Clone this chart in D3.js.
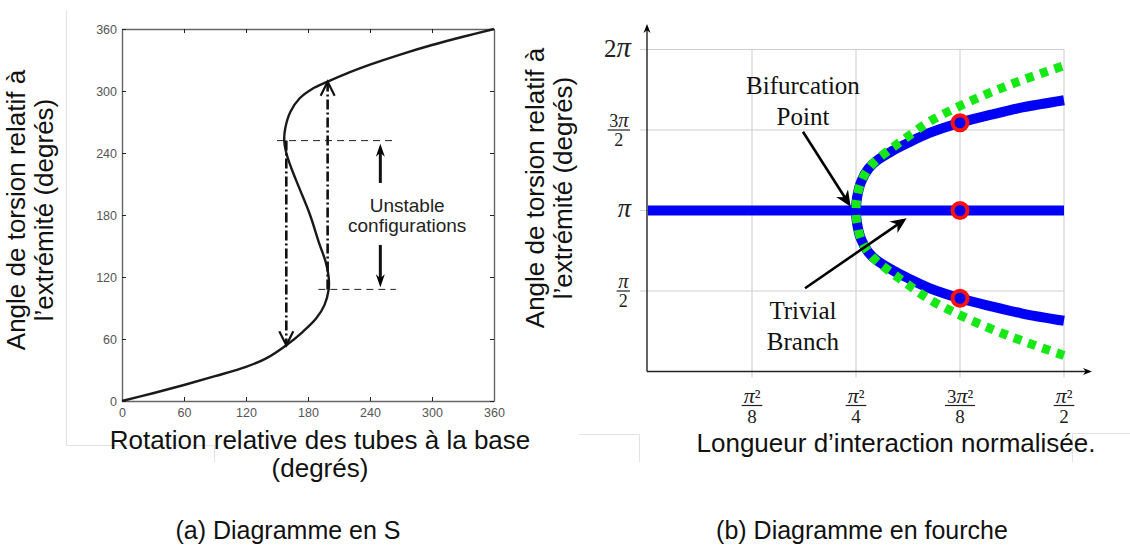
<!DOCTYPE html>
<html>
<head>
<meta charset="utf-8">
<script src="https://cdn.jsdelivr.net/npm/d3@7"></script>
<style>
  body { margin: 0; background: #fff; }
  svg { display: block; }
</style>
</head>
<body>
<div id="fig"></div>
<script>
// ---- data (a) S diagram : rotation at base (deg) vs tip twist (deg)
var sRotation = [0, 30, 60, 90, 120, 140, 159, 175, 188, 196, 200, 200, 197, 191, 182, 172, 164, 159, 157, 158, 163, 172, 184, 199, 220, 240, 270, 300, 330, 360];
var sTwist    = [0, 7.5, 15.5, 24, 33, 41.5, 54, 67, 80, 93, 108, 120, 135, 152, 180, 205, 225, 240, 252, 264, 280, 293, 302, 309, 318, 325.5, 335.5, 344.5, 352.5, 360];
var sTicks = [0, 60, 120, 180, 240, 300, 360];
var unstableBand = [108, 252];          // twist limits of unstable part
var jumpDown = [159, 252, 54];          // rotation, from twist, to twist
var jumpUp = [199, 108, 309];

// ---- data (b) pitchfork : length in pi^2/8 units, angle in pi units
var lenTicks = [1, 2, 3, 4];
var lenTickLabels = ["π²/8", "π²/4", "3π²/8", "π²/2"];
var angleTicks = [0.5, 1, 1.5, 2];
var angleTickLabels = ["π/2", "π", "3π/2", "2π"];
var trivialLen = [0, 4];
var trivialAngle = [1, 1];
var forkLen        = [2, 2.01, 2.05, 2.12, 2.2, 2.35, 2.5, 2.7, 3, 3.3, 3.6, 4];
var blueUpper      = [1.0, 1.08, 1.18, 1.26, 1.31, 1.37, 1.42, 1.48, 1.545, 1.595, 1.64, 1.685];
var blueLower      = [1.0, 0.92, 0.82, 0.74, 0.69, 0.63, 0.58, 0.52, 0.455, 0.405, 0.36, 0.315];
var greenUpper     = [1.0, 1.08, 1.18, 1.26, 1.315, 1.39, 1.46, 1.55, 1.65, 1.735, 1.81, 1.9];
var greenLower     = [1.0, 0.92, 0.82, 0.74, 0.685, 0.61, 0.54, 0.45, 0.35, 0.265, 0.19, 0.1];
var markLen = [3, 3, 3];
var markAngle = [1.545, 1, 0.455];

var svg = d3.select("#fig")
  .append("svg")
    .attr("width", 1130)
    .attr("height", 550)
    .style("font-family", "'Liberation Sans', Arial, Helvetica, sans-serif");

svg.append("rect").attr("width", 1130).attr("height", 550).attr("fill", "#fff");

// faint panel frame leftovers
var frame = svg.append("g").attr("stroke", "#e2e2e2").attr("fill", "none").attr("stroke-width", 1);
frame.append("path").attr("d", "M66.5,10V445.5H214.5V462");
frame.append("path").attr("d", "M579,434.5H639.5V462");
frame.append("path").attr("d", "M1130,433.5H1072.5V462");

// arrow head helper
function head(g, x1, y1, x2, y2, len, half, filled) {
  var a = Math.atan2(y2 - y1, x2 - x1);
  var c = Math.cos(a), s = Math.sin(a);
  var bx = x2 - len * c, by = y2 - len * s;
  var l = [bx - half * s, by + half * c], r = [bx + half * s, by - half * c];
  if (filled) {
    var nx = x2 - len * 0.7 * c, ny = y2 - len * 0.7 * s;
    g.append("path")
      .attr("d", "M" + x2 + "," + y2 + "L" + l + "L" + nx + "," + ny + "L" + r + "Z")
      .attr("fill", "#000").attr("stroke", "none");
  } else {
    g.append("path")
      .attr("d", "M" + l + "L" + x2 + "," + y2 + "L" + r)
      .attr("fill", "none").attr("stroke", "#111").attr("stroke-width", 2.2);
  }
}

// ================= (a) S diagram =================
var xL = d3.scaleLinear().domain([0, 360]).range([122, 494]);
var yL = d3.scaleLinear().domain([0, 360]).range([401, 29]);
var gA = svg.append("g");

function styleAxis(g) {
  g.select(".domain").attr("stroke", "#666").attr("stroke-width", 1.4);
  g.selectAll(".tick line").attr("stroke", "#666").attr("stroke-width", 1.2);
  g.selectAll(".tick text").attr("fill", "#555").style("font-size", "12.5px")
    .style("font-family", "'Liberation Sans', Arial, sans-serif");
}

gA.append("g")
  .attr("transform", "translate(0," + yL(0) + ")")
  .call(d3.axisBottom(xL).tickValues(sTicks).tickSizeInner(-4).tickSizeOuter(0).tickPadding(7))
  .call(styleAxis);
gA.append("g")
  .attr("transform", "translate(0," + yL(360) + ")")
  .call(d3.axisTop(xL).tickValues(sTicks).tickSizeInner(-4).tickSizeOuter(0).tickFormat(""))
  .call(styleAxis);
gA.append("g")
  .attr("transform", "translate(" + xL(0) + ",0)")
  .call(d3.axisLeft(yL).tickValues(sTicks).tickSizeInner(-4).tickSizeOuter(0).tickPadding(5))
  .call(styleAxis);
gA.append("g")
  .attr("transform", "translate(" + xL(360) + ",0)")
  .call(d3.axisRight(yL).tickValues(sTicks).tickSizeInner(-4).tickSizeOuter(0).tickFormat(""))
  .call(styleAxis);

var sLine = d3.line()
  .x(function(d) { return xL(d[0]); })
  .y(function(d) { return yL(d[1]); })
  .curve(d3.curveCatmullRom.alpha(0.5));

gA.append("path")
  .datum(d3.zip(sRotation, sTwist))
  .attr("d", sLine)
  .attr("fill", "none")
  .attr("stroke", "#1a1a1a")
  .attr("stroke-width", 2.4);

// dashed limits of the unstable part
gA.append("line")
  .attr("x1", xL(150)).attr("x2", xL(262))
  .attr("y1", yL(unstableBand[1])).attr("y2", yL(unstableBand[1]));
gA.append("line")
  .attr("x1", xL(190)).attr("x2", xL(265))
  .attr("y1", yL(unstableBand[0])).attr("y2", yL(unstableBand[0]));
gA.selectAll("line")
  .attr("stroke", "#222").attr("stroke-width", 1).attr("stroke-dasharray", "7,5");

// jumps (dash-dot)
[jumpDown, jumpUp].forEach(function(j) {
  var x = xL(j[0]), y1 = yL(j[1]), y2 = yL(j[2]);
  gA.append("line")
    .attr("x1", x).attr("x2", x).attr("y1", y1).attr("y2", y2 + (y2 > y1 ? -2 : 2))
    .attr("stroke", "#111").attr("stroke-width", 2.6)
    .attr("stroke-dasharray", "10,3,2,3");
  head(gA, x, y1, x, y2, 14, 7, false);
});

// unstable arrows + text
var ax = xL(250);
gA.append("line").attr("x1", ax).attr("x2", ax).attr("y1", yL(211)).attr("y2", yL(240))
  .attr("stroke", "#111").attr("stroke-width", 3);
head(gA, ax, yL(211), ax, yL(249), 13, 4.5, true);
gA.append("line").attr("x1", ax).attr("x2", ax).attr("y1", yL(151)).attr("y2", yL(118))
  .attr("stroke", "#111").attr("stroke-width", 3);
head(gA, ax, yL(151), ax, yL(110), 13, 4.5, true);

gA.append("text").attr("x", xL(276)).attr("y", yL(189.7)).attr("dy", "0.36em")
  .attr("text-anchor", "middle").style("font-size", "19px").attr("fill", "#222")
  .text("Unstable");
gA.append("text").attr("x", xL(276)).attr("y", yL(170.3)).attr("dy", "0.36em")
  .attr("text-anchor", "middle").style("font-size", "19px").attr("fill", "#222")
  .text("configurations");

// labels (a)
function vLabel(x, y, txt) {
  svg.append("text")
    .attr("transform", "translate(" + x + "," + y + ") rotate(-90)")
    .attr("text-anchor", "middle").attr("dy", "0.35em")
    .style("font-size", "26px").attr("fill", "#111")
    .text(txt);
}
vLabel(16, 210, "Angle de torsion relatif à");
vLabel(44, 210, "l’extrémité (degrés)");

svg.append("text").attr("x", 320).attr("y", 449).attr("text-anchor", "middle")
  .style("font-size", "26px").attr("fill", "#111").text("Rotation relative des tubes à la base");
svg.append("text").attr("x", 320).attr("y", 477).attr("text-anchor", "middle")
  .style("font-size", "26px").attr("fill", "#111").text("(degrés)");

// ================= (b) pitchfork =================
var xR = d3.scaleLinear().domain([0, 4]).range([648, 1064]);
var yR = d3.scaleLinear().domain([0, 2]).range([371.5, 49.5]);
var gB = svg.append("g");

// grid
gB.selectAll("hgrid").data(angleTicks).enter().append("line")
  .attr("x1", xR(0) - 8).attr("x2", xR(4))
  .attr("y1", function(d) { return yR(d); }).attr("y2", function(d) { return yR(d); })
  .attr("stroke", "#cfcfcf").attr("stroke-width", 1.1);
gB.selectAll("vgrid").data(lenTicks).enter().append("line")
  .attr("x1", function(d) { return xR(d); }).attr("x2", function(d) { return xR(d); })
  .attr("y1", yR(2)).attr("y2", yR(0) + 6)
  .attr("stroke", "#cfcfcf").attr("stroke-width", 1.1);

// axes with arrows
gB.append("line").attr("x1", xR(0) - 1).attr("x2", xR(0) - 1).attr("y1", yR(0)).attr("y2", 27)
  .attr("stroke", "#222").attr("stroke-width", 1.4);
head(gB, xR(0) - 1, yR(0), xR(0) - 1, 24, 9, 3.5, true);
gB.append("line").attr("x1", xR(0) - 1).attr("x2", 1088).attr("y1", yR(0)).attr("y2", yR(0))
  .attr("stroke", "#222").attr("stroke-width", 1.4);
head(gB, xR(0), yR(0), 1092, yR(0), 9, 3.5, true);

// fraction tick labels
function piText(t, txt, size) {
  // italic pi, plain digits
  txt.split(/(π)/).forEach(function(p) {
    if (p === "") return;
    var ts = t.append("tspan").text(p);
    if (p === "π") ts.style("font-style", "italic").style("font-size", (size * 1.15) + "px");
  });
  t.style("font-size", size + "px");
}
var serif = "'Liberation Serif', 'DejaVu Serif', serif";

lenTicks.forEach(function(v, i) {
  var parts = lenTickLabels[i].split("/");
  var cx = xR(v);
  var g = gB.append("g").style("font-family", serif).attr("fill", "#222");
  var num = g.append("text").attr("x", cx).attr("y", 396).attr("dy", "0.35em").attr("text-anchor", "middle");
  piText(num, parts[0], 19);
  var w = num.node().getComputedTextLength() + 4;
  g.append("line").attr("x1", cx - w / 2).attr("x2", cx + w / 2).attr("y1", 405.5).attr("y2", 405.5)
    .attr("stroke", "#222").attr("stroke-width", 1.2);
  var den = g.append("text").attr("x", cx).attr("y", 416).attr("dy", "0.35em").attr("text-anchor", "middle");
  piText(den, parts[1], 19);
});

angleTicks.forEach(function(v, i) {
  var parts = angleTickLabels[i].split("/");
  var cy = yR(v);
  var g = gB.append("g").style("font-family", serif).attr("fill", "#222");
  if (parts.length === 1) {
    var t = g.append("text").attr("x", 631).attr("y", cy).attr("dy", "0.3em").attr("text-anchor", "end");
    piText(t, parts[0], v === 2 ? 25 : 23);
    return;
  }
  var num = g.append("text").attr("y", cy - 8).attr("dy", "0.3em").attr("text-anchor", "middle");
  piText(num, parts[0], 18);
  var w = num.node().getComputedTextLength() + 3;
  var cx = 630 - w / 2;
  num.attr("x", cx);
  g.append("line").attr("x1", cx - w / 2).attr("x2", cx + w / 2).attr("y1", cy).attr("y2", cy)
    .attr("stroke", "#222").attr("stroke-width", 1.2);
  var den = g.append("text").attr("x", cx).attr("y", cy + 10).attr("dy", "0.35em").attr("text-anchor", "middle");
  piText(den, parts[1], 18);
});

// branches
var rLine = d3.line()
  .x(function(d) { return xR(d[0]); })
  .y(function(d) { return yR(d[1]); })
  .curve(d3.curveCatmullRom.alpha(0.5));

gB.append("path")
  .datum(d3.zip(trivialLen, trivialAngle))
  .attr("d", rLine)
  .attr("fill", "none").attr("stroke", "#0000f5").attr("stroke-width", 10);

function fork(upper, lower) {
  var lo = d3.zip(forkLen, lower).reverse();
  var up = d3.zip(forkLen, upper).slice(1);
  return lo.concat(up);
}
gB.append("path")
  .datum(fork(blueUpper, blueLower))
  .attr("d", rLine)
  .attr("fill", "none").attr("stroke", "#0000f5").attr("stroke-width", 10);
gB.append("path")
  .datum(fork(greenUpper, greenLower))
  .attr("d", rLine)
  .attr("fill", "none").attr("stroke", "#16e816").attr("stroke-width", 9)
  .attr("stroke-dasharray", "8,7");

gB.selectAll("marks")
  .data(d3.zip(markLen, markAngle))
  .enter()
  .append("circle")
    .attr("cx", function(d) { return xR(d[0]); })
    .attr("cy", function(d) { return yR(d[1]); })
    .attr("r", 7.5)
    .attr("fill", "#0000f5")
    .attr("stroke", "#ff1010")
    .attr("stroke-width", 4);

// annotations
function note(x, y, txt) {
  gB.append("text").attr("x", xR(x)).attr("y", yR(y)).attr("dy", "0.35em")
    .attr("text-anchor", "middle").style("font-family", "'Liberation Serif', 'Times New Roman', serif")
    .style("font-size", "25px").attr("fill", "#111").text(txt);
}
note(1.49, 1.78, "Bifurcation");
note(1.49, 1.584, "Point");
note(1.49, 0.382, "Trivial");
note(1.49, 0.189, "Branch");

function pointer(x1, y1, x2, y2) {
  var a = Math.atan2(yR(y2) - yR(y1), xR(x2) - xR(x1));
  gB.append("line")
    .attr("x1", xR(x1)).attr("y1", yR(y1))
    .attr("x2", xR(x2) - 9 * Math.cos(a)).attr("y2", yR(y2) - 9 * Math.sin(a))
    .attr("stroke", "#000").attr("stroke-width", 2.6);
  head(gB, xR(x1), yR(y1), xR(x2), yR(y2), 16, 7, true);
}
pointer(1.49, 1.489, 1.949, 1.024);
pointer(1.51, 0.517, 2.487, 0.952);

// labels (b)
vLabel(535, 188, "Angle de torsion relatif à");
vLabel(563, 188, "l’extrémité (degrés)");
svg.append("text").attr("x", 896).attr("y", 452).attr("text-anchor", "middle")
  .style("font-size", "26px").attr("fill", "#111").text("Longueur d’interaction normalisée.");

// captions
svg.append("text").attr("x", 288).attr("y", 539).attr("text-anchor", "middle")
  .style("font-size", "25px").attr("fill", "#111").text("(a) Diagramme en S");
svg.append("text").attr("x", 862).attr("y", 539).attr("text-anchor", "middle")
  .style("font-size", "25px").attr("fill", "#111").text("(b) Diagramme en fourche");
</script>
</body>
</html>
